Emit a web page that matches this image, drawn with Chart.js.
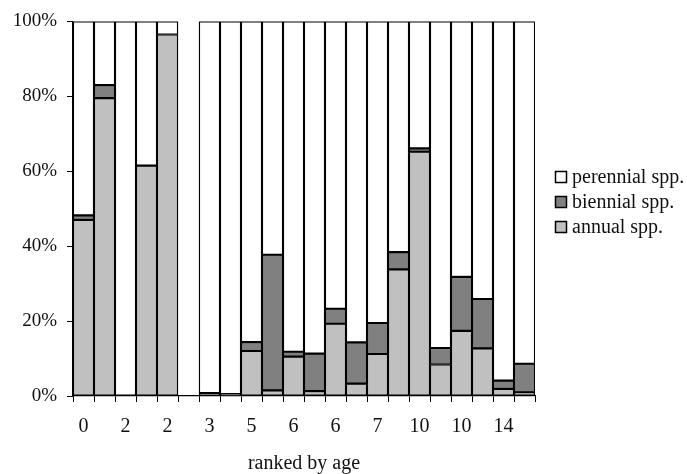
<!DOCTYPE html>
<html>
<head>
<meta charset="utf-8">
<script src="https://cdn.jsdelivr.net/npm/chart.js@4/dist/chart.umd.min.js"></script>
<style>
html,body{margin:0;padding:0;background:#fff;}
#wrap{width:687px;height:474px;}
</style>
</head>
<body>
<div id="wrap"><canvas id="c" width="687" height="474"></canvas></div>
<script>
const categories = ['0','','2','','2','','3','','5','','6','','6','','7','','10','','10','','14',''];
const annual    = [47, 79.5, null, 61.5, 96.5, null, null, null, 12, 1.5, 10.5, 1.3, 19.3, 3.3, 11.2, 33.8, 65.2, 8.4, 17.4, 12.7, 1.9, 1.0];
const biennial  = [1.2, 3.5, null, null, null, null, 0.8, 0.5, 2.4, 36.2, 1.3, 10, 4, 11, 8.3, 4.6, 0.9, 4.4, 14.4, 13.2, 2.2, 7.6];
const perennial = [51.8, 17, 100, 38.5, 3.5, null, 99.2, 99.5, 85.6, 62.3, 88.2, 88.7, 76.7, 85.7, 80.5, 61.6, 33.9, 87.2, 68.2, 74.1, 95.9, 91.4];
const yTicks = [0, 20, 40, 60, 80, 100];

const FONT = "'Liberation Serif', 'Times New Roman', serif";
const TXT = '#111';

const legendPlugin = {
  id: 'customLegend',
  afterDraw(chart) {
    const ctx = chart.ctx;
    const ds = chart.data.datasets.slice().reverse();
    ctx.save();
    ctx.font = '20px ' + FONT;
    ctx.textBaseline = 'middle';
    ctx.textAlign = 'left';
    ds.forEach((d, i) => {
      const cy = 177 + i * 25;
      ctx.fillStyle = d.backgroundColor;
      ctx.fillRect(555.5, cy - 5.5, 11, 11);
      ctx.strokeStyle = '#000';
      ctx.lineWidth = 1.5;
      ctx.strokeRect(555.5, cy - 5.5, 11, 11);
      ctx.fillStyle = TXT;
      ctx.fillText(d.label, 572, cy + 1);
    });
    ctx.restore();
  }
};

const common = {borderColor: '#000', borderWidth: 1.4, barPercentage: 1, categoryPercentage: 1, borderSkipped: false};

new Chart(document.getElementById('c'), {
  type: 'bar',
  data: {
    labels: categories,
    datasets: [
      Object.assign({label: 'annual spp.', data: annual, backgroundColor: '#c0c0c0'}, common),
      Object.assign({label: 'biennial spp.', data: biennial, backgroundColor: '#808080'}, common),
      Object.assign({label: 'perennial spp.', data: perennial, backgroundColor: '#ffffff'}, common)
    ]
  },
  options: {
    responsive: false,
    animation: false,
    devicePixelRatio: 1,
    layout: {padding: {top: 19, right: 152, left: 0, bottom: 0}},
    plugins: {legend: {display: false}, tooltip: {enabled: false}},
    scales: {
      x: {
        stacked: true,
        offset: true,
        grid: {display: true, offset: true, drawOnChartArea: false, drawTicks: true, tickLength: 6, color: '#000', lineWidth: 1},
        border: {display: true, color: '#000', width: 1.2},
        ticks: {autoSkip: false, maxRotation: 0, minRotation: 0, padding: 13, color: TXT, font: {family: FONT, size: 20}},
        title: {display: true, text: 'ranked by age', color: TXT, font: {family: FONT, size: 20}, padding: {top: 0, bottom: -2}},
        afterFit(s) { s.height = 78; }
      },
      y: {
        stacked: true,
        min: 0, max: 100,
        afterBuildTicks(s) { s.ticks = yTicks.map(v => ({value: v})); },
        grid: {display: true, drawOnChartArea: false, drawTicks: true, tickLength: 6, color: '#000', lineWidth: 1},
        border: {display: true, color: '#000', width: 1.2},
        ticks: {padding: 10, color: TXT, font: {family: FONT, size: 19}, callback: v => v + '%'},
        afterFit(s) { s.width = 73; }
      }
    }
  },
  plugins: [legendPlugin]
});
</script>
</body>
</html>
